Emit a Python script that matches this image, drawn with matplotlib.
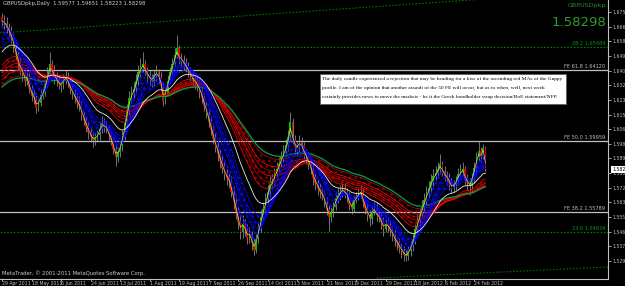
import matplotlib
matplotlib.use("Agg")
import matplotlib.pyplot as plt
import matplotlib.patches as patches
import numpy as np

# GBPUSDpkp daily, 29 Apr 2011 .. 2 Mar 2012
first_open = 1.6720
closes = [
    1.6700, 1.6690, 1.6660, 1.6640, 1.6600, 1.6555, 1.6500, 1.6450, 1.6410, 1.6395,
    1.6350, 1.6370, 1.6300, 1.6260, 1.6250, 1.6190, 1.6220, 1.6265, 1.6280, 1.6330,
    1.6390, 1.6450, 1.6405, 1.6370, 1.6350, 1.6330, 1.6320, 1.6355, 1.6375, 1.6340,
    1.6300, 1.6270, 1.6250, 1.6225, 1.6200, 1.6150, 1.6120, 1.6080, 1.6050, 1.6020,
    1.6000, 1.6015, 1.6030, 1.6070, 1.6100, 1.6085, 1.6070, 1.6030, 1.6000, 1.5950,
    1.5900, 1.5930, 1.5960, 1.6030, 1.6100, 1.6180, 1.6250, 1.6280, 1.6300, 1.6350,
    1.6400, 1.6430, 1.6450, 1.6410, 1.6380, 1.6360, 1.6350, 1.6380, 1.6400, 1.6370,
    1.6320, 1.6230, 1.6280, 1.6350, 1.6400, 1.6450, 1.6500, 1.6540, 1.6480, 1.6470,
    1.6450, 1.6430, 1.6400, 1.6380, 1.6350, 1.6340, 1.6320, 1.6290, 1.6250, 1.6200,
    1.6160, 1.6110, 1.6060, 1.6010, 1.5960, 1.5920, 1.5880, 1.5840, 1.5800, 1.5780,
    1.5760, 1.5700, 1.5640, 1.5580, 1.5520, 1.5460, 1.5510, 1.5480, 1.5430, 1.5450,
    1.5400, 1.5360, 1.5420, 1.5490, 1.5550, 1.5600, 1.5650, 1.5700, 1.5750, 1.5760,
    1.5800, 1.5830, 1.5860, 1.5900, 1.5930, 1.5970, 1.6020, 1.6110, 1.6000, 1.5960,
    1.5950, 1.5990, 1.5970, 1.5920, 1.5900, 1.5860, 1.5830, 1.5780, 1.5750, 1.5720,
    1.5700, 1.5680, 1.5640, 1.5590, 1.5550, 1.5580, 1.5610, 1.5660, 1.5680, 1.5700,
    1.5720, 1.5690, 1.5680, 1.5620, 1.5600, 1.5650, 1.5670, 1.5690, 1.5700, 1.5640,
    1.5600, 1.5560, 1.5540, 1.5590, 1.5600, 1.5560, 1.5550, 1.5520, 1.5480, 1.5510,
    1.5500, 1.5470, 1.5450, 1.5410, 1.5400, 1.5370, 1.5350, 1.5330, 1.5320, 1.5350,
    1.5380, 1.5420, 1.5480, 1.5530, 1.5570, 1.5610, 1.5650, 1.5690, 1.5720, 1.5760,
    1.5790, 1.5810, 1.5830, 1.5860, 1.5820, 1.5790, 1.5780, 1.5750, 1.5720, 1.5740,
    1.5760, 1.5800, 1.5820, 1.5830, 1.5770, 1.5750, 1.5730, 1.5780, 1.5840, 1.5900,
    1.5940, 1.5910, 1.59577, 1.58298,
]
highs = [
    1.6748, 1.6735, 1.6725, 1.6690, 1.6670, 1.6630, 1.6590, 1.6540, 1.6480, 1.6440,
    1.6420, 1.6400, 1.6395, 1.6330, 1.6300, 1.6275, 1.6250, 1.6300, 1.6310, 1.6360,
    1.6430, 1.6520, 1.6470, 1.6440, 1.6400, 1.6380, 1.6360, 1.6390, 1.6410, 1.6400,
    1.6370, 1.6330, 1.6300, 1.6280, 1.6260, 1.6230, 1.6180, 1.6150, 1.6110, 1.6080,
    1.6050, 1.6045, 1.6060, 1.6110, 1.6140, 1.6130, 1.6110, 1.6090, 1.6050, 1.6020,
    1.5970, 1.5960, 1.5990, 1.6060, 1.6130, 1.6210, 1.6290, 1.6320, 1.6340, 1.6390,
    1.6440, 1.6480, 1.6520, 1.6470, 1.6430, 1.6410, 1.6390, 1.6410, 1.6440, 1.6420,
    1.6400, 1.6340, 1.6310, 1.6380, 1.6430, 1.6480, 1.6540, 1.6618, 1.6560, 1.6510,
    1.6500, 1.6480, 1.6460, 1.6430, 1.6410, 1.6380, 1.6370, 1.6350, 1.6320, 1.6280,
    1.6230, 1.6190, 1.6140, 1.6090, 1.6040, 1.5990, 1.5950, 1.5910, 1.5870, 1.5830,
    1.5810, 1.5790, 1.5730, 1.5680, 1.5610, 1.5560, 1.5560, 1.5540, 1.5510, 1.5490,
    1.5470, 1.5430, 1.5450, 1.5520, 1.5590, 1.5640, 1.5690, 1.5740, 1.5790, 1.5800,
    1.5840, 1.5870, 1.5900, 1.5940, 1.5970, 1.6010, 1.6060, 1.6165, 1.6130, 1.6030,
    1.5990, 1.6030, 1.6020, 1.5990, 1.5950, 1.5930, 1.5890, 1.5860, 1.5810, 1.5780,
    1.5750, 1.5730, 1.5710, 1.5670, 1.5620, 1.5610, 1.5640, 1.5700, 1.5720, 1.5740,
    1.5770, 1.5750, 1.5720, 1.5700, 1.5650, 1.5680, 1.5700, 1.5720, 1.5740, 1.5720,
    1.5670, 1.5630, 1.5590, 1.5620, 1.5640, 1.5630, 1.5590, 1.5580, 1.5550, 1.5540,
    1.5550, 1.5530, 1.5500, 1.5480, 1.5440, 1.5430, 1.5400, 1.5380, 1.5360, 1.5380,
    1.5410, 1.5450, 1.5510, 1.5570, 1.5600, 1.5650, 1.5690, 1.5730, 1.5760, 1.5800,
    1.5830, 1.5850, 1.5870, 1.5920, 1.5880, 1.5850, 1.5820, 1.5810, 1.5780, 1.5770,
    1.5790, 1.5840, 1.5860, 1.5870, 1.5850, 1.5800, 1.5780, 1.5810, 1.5870, 1.5930,
    1.5994, 1.5960, 1.5980, 1.59651,
]
lows = [
    1.6660, 1.6655, 1.6630, 1.6605, 1.6570, 1.6520, 1.6470, 1.6410, 1.6380, 1.6350,
    1.6320, 1.6325, 1.6280, 1.6230, 1.6210, 1.6160, 1.6170, 1.6200, 1.6240, 1.6260,
    1.6310, 1.6370, 1.6380, 1.6330, 1.6320, 1.6300, 1.6285, 1.6300, 1.6330, 1.6310,
    1.6270, 1.6240, 1.6220, 1.6190, 1.6170, 1.6120, 1.6090, 1.6050, 1.6010, 1.5990,
    1.5960, 1.5970, 1.5990, 1.6000, 1.6040, 1.6050, 1.6040, 1.6000, 1.5970, 1.5920,
    1.5850, 1.5870, 1.5900, 1.5940, 1.6000, 1.6070, 1.6150, 1.6220, 1.6250, 1.6270,
    1.6320, 1.6370, 1.6400, 1.6380, 1.6340, 1.6320, 1.6310, 1.6320, 1.6350, 1.6330,
    1.6290, 1.6200, 1.6210, 1.6260, 1.6330, 1.6380, 1.6430, 1.6480, 1.6450, 1.6430,
    1.6410, 1.6400, 1.6370, 1.6350, 1.6320, 1.6300, 1.6290, 1.6250, 1.6220, 1.6170,
    1.6130, 1.6080, 1.6030, 1.5980, 1.5930, 1.5880, 1.5840, 1.5810, 1.5770, 1.5740,
    1.5720, 1.5670, 1.5600, 1.5540, 1.5480, 1.5420, 1.5430, 1.5440, 1.5390, 1.5400,
    1.5360, 1.5330, 1.5340, 1.5400, 1.5460, 1.5520, 1.5570, 1.5620, 1.5670, 1.5720,
    1.5730, 1.5770, 1.5800, 1.5830, 1.5870, 1.5900, 1.5940, 1.6000, 1.5970, 1.5920,
    1.5910, 1.5930, 1.5940, 1.5890, 1.5860, 1.5830, 1.5800, 1.5740, 1.5710, 1.5680,
    1.5660, 1.5650, 1.5610, 1.5560, 1.5470, 1.5520, 1.5550, 1.5590, 1.5630, 1.5650,
    1.5670, 1.5660, 1.5640, 1.5590, 1.5570, 1.5580, 1.5630, 1.5650, 1.5660, 1.5610,
    1.5570, 1.5530, 1.5500, 1.5510, 1.5560, 1.5530, 1.5520, 1.5480, 1.5440, 1.5460,
    1.5460, 1.5440, 1.5410, 1.5380, 1.5360, 1.5340, 1.5310, 1.5295, 1.5290, 1.5300,
    1.5320, 1.5350, 1.5390, 1.5450, 1.5500, 1.5540, 1.5580, 1.5620, 1.5660, 1.5690,
    1.5730, 1.5760, 1.5780, 1.5800, 1.5790, 1.5760, 1.5740, 1.5710, 1.5690, 1.5700,
    1.5710, 1.5740, 1.5780, 1.5790, 1.5740, 1.5710, 1.5680, 1.5700, 1.5750, 1.5810,
    1.5880, 1.5870, 1.5890, 1.58223,
]

date_labels = ["29 Apr 2011", "18 May 2011", "6 Jun 2011", "24 Jun 2011", "13 Jul 2011",
               "1 Aug 2011", "19 Aug 2011", "7 Sep 2011", "26 Sep 2011", "14 Oct 2011",
               "3 Nov 2011", "21 Nov 2011", "9 Dec 2011", "29 Dec 2011", "18 Jan 2012",
               "6 Feb 2012", "24 Feb 2012"]
bars_per_label = 13

price_ticks = [1.52930, 1.53790, 1.54640, 1.55500, 1.56360, 1.57220, 1.58080, 1.58940,
               1.59800, 1.60650, 1.61510, 1.62370, 1.63230, 1.64090, 1.64950, 1.65800,
               1.66660, 1.67520]

# guppy EMAs, with the value each one had at the left edge of the screen
short_periods = [3, 5, 8, 10, 12, 15]
short_start = [1.6680, 1.6650, 1.6610, 1.6580, 1.6550, 1.6520]
long_periods = [30, 35, 40, 45, 50, 60]
long_start = [1.6420, 1.6400, 1.6380, 1.6360, 1.6340, 1.6310]
yellow_period, yellow_start = 2, 1.6690
white_period, white_start = 21, 1.6500
green_period, green_start = 65, 1.6300

fibo_levels = [1.64120, 1.59959, 1.55789]
fibo_names = ["FE 61.8 1.64120", "FE 50.0 1.59959", "FE 38.2 1.55789"]
green_levels = [1.65484, 1.54634]
green_names = ["38.2 1.65484", "23.6 1.54634"]
trend_top = ([-1, 267], [1.6629, 1.6879])
trend_bottom = ([165, 267], [1.5193, 1.5258])

note = ["The daily candle experienced a rejection that may be heading for a kiss of the ascending red MAs of the Guppy",
        "profile. I am of the opinion that another assault of the 50 FE will occur, but as to when, well, next week",
        "certainly provides news to move the markets - be it the Greek bondholder swap decision/BoE statement/NFP."]


def ema(values, period, start):
    k = 2.0 / (period + 1)
    out = []
    prev = start
    for v in values:
        prev = prev + k * (v - prev)
        out.append(prev)
    return np.array(out)


closes = np.array(closes)
highs = np.array(highs)
lows = np.array(lows)
opens = np.concatenate([[first_open], closes[:-1]])
x = np.arange(len(closes))

fig = plt.figure(figsize=(6.25, 2.86), dpi=100, facecolor="black")
ax = fig.add_axes([0, 7 / 286, 608 / 625, 279 / 286])
ax.set_facecolor("black")
ax.set_xlim(-0.9, 267)
ax.set_ylim(1.51873, 1.68222)

# levels and trend lines
for lv, name in zip(fibo_levels, fibo_names):
    ax.axhline(lv, color="#c0c0c0", lw=0.9)
    ax.text(0.995, lv + 0.0005, name, transform=ax.get_yaxis_transform(), ha="right",
            va="bottom", fontsize=3.6, color="#c0c0c0")
for lv, name in zip(green_levels, green_names):
    ax.axhline(lv, color="#008000", lw=0.8, ls=(0, (1.5, 1.5)))
    ax.text(0.995, lv + 0.0005, name, transform=ax.get_yaxis_transform(), ha="right",
            va="bottom", fontsize=3.6, color="#00a000")
ax.plot(*trend_top, color="#007000", lw=0.8, ls=(0, (1.5, 1.5)))
ax.plot(*trend_bottom, color="#007000", lw=0.8, ls=(0, (1.5, 1.5)))

# candles
up = closes >= opens
ax.vlines(x, lows, highs, color="#a0a0a0", lw=0.5, zorder=2)
ax.bar(x[up], closes[up] - opens[up], bottom=opens[up], width=0.7, color="#00c000", zorder=3)
ax.bar(x[~up], closes[~up] - opens[~up], bottom=opens[~up], width=0.7, color="#e00000", zorder=3)

# moving averages
short = [ema(closes, p, s) for p, s in zip(short_periods, short_start)]
long_ = [ema(closes, p, s) for p, s in zip(long_periods, long_start)]
ax.fill_between(x, np.min(long_, axis=0), np.max(long_, axis=0), facecolor="none",
                edgecolor="#900000", hatch="...", lw=0, zorder=3)
for j, m in enumerate(long_):
    ax.plot(x, m, color="#ff0000" if j % 2 == 0 else "#c00000", lw=0.55, zorder=4)
ax.plot(x, ema(closes, green_period, green_start), color="#00a050", lw=0.9, zorder=4)
ax.fill_between(x, np.min(short, axis=0), np.max(short, axis=0), facecolor="none",
                edgecolor="#1010c0", hatch="...", lw=0, zorder=5)
for m in short:
    ax.plot(x, m, color="#0000ff", lw=0.55, zorder=5)
ax.plot(x, ema(closes, white_period, white_start), color="#e8e8e8", lw=0.6, zorder=6)
ax.plot(x, ema(closes, yellow_period, yellow_start), color="#e0e000", lw=0.5, zorder=6)

# axes look
for side in ["top", "left"]:
    ax.spines[side].set_visible(False)
for side in ["right", "bottom"]:
    ax.spines[side].set_color("#c0c0c0")
    ax.spines[side].set_linewidth(0.8)
ax.yaxis.tick_right()
ax.set_yticks(price_ticks)
ax.set_yticklabels(["%.5f" % t for t in price_ticks])
ax.set_xticks(np.arange(len(date_labels)) * bars_per_label)
ax.set_xticklabels(date_labels, ha="left")
ax.tick_params(axis="both", colors="#c0c0c0", labelsize=3.3, length=2, width=0.6, pad=1)
ax.tick_params(axis="x", length=1.2, pad=0.2)

# current price marker on the scale
ax.annotate("%.5f" % closes[-1], xy=(1.0, closes[-1]), xycoords=("axes fraction", "data"),
            xytext=(3, 0), textcoords="offset points", va="center", ha="left",
            fontsize=3.3, color="black",
            bbox=dict(boxstyle="square,pad=0.15", facecolor="white", edgecolor="none"))

ax.text(0.005, 0.995, "GBPUSDpkp,Daily  1.59577 1.59651 1.58223 1.58298", transform=ax.transAxes,
        ha="left", va="top", fontsize=3.8, color="#d0d0d0")
ax.text(0.004, 0.012, "MetaTrader, \u00a9 2001-2011 MetaQuotes Software Corp.", transform=ax.transAxes,
        ha="left", va="bottom", fontsize=3.8, color="#d0d0d0")
fig.text(606 / 625, 1 - 5.5 / 286, "GBPUSDpkp", ha="right", va="center", fontsize=4.6, color="#2e8b2e")
fig.text(606 / 625, 1 - 22.5 / 286, "%.5f" % closes[-1], ha="right", va="center", fontsize=9.5,
         color="#2e9e2e")

# note box
box = patches.Rectangle((320 / 625, 1 - 104 / 286), 246 / 625, 30 / 286, transform=fig.transFigure,
                        facecolor="white", edgecolor="#606060", lw=0.6, zorder=10)
fig.patches.append(box)
for k, line in enumerate(note):
    fig.text(322 / 625, 1 - (79 + 9 * k) / 286, line, ha="left", va="center", fontsize=3.85,
             family="Liberation Serif", color="black", zorder=11)

fig.savefig("out.png", dpi=100, facecolor="black")
